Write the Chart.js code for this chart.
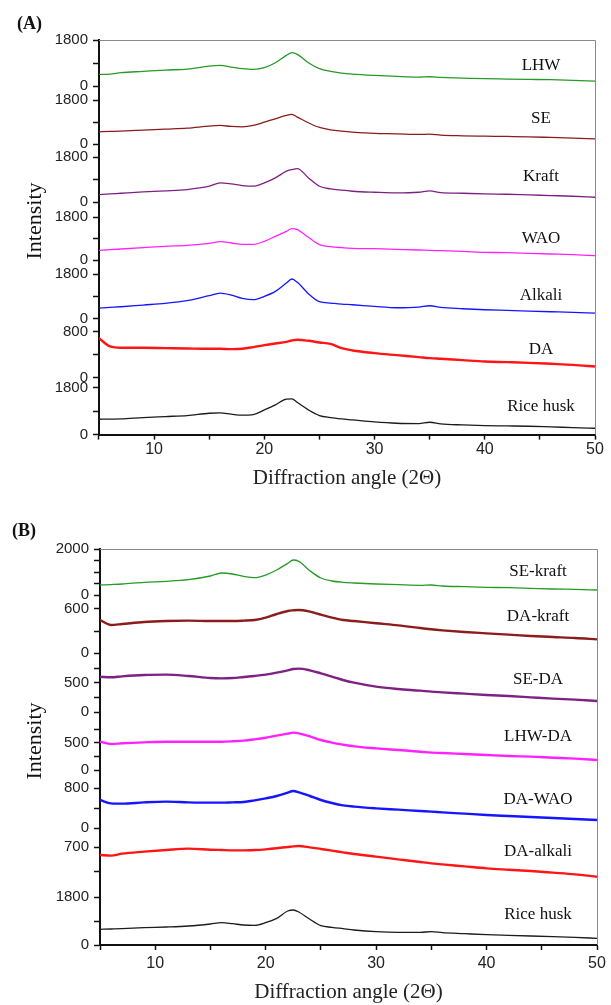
<!DOCTYPE html>
<html>
<head>
<meta charset="utf-8">
<script src="https://cdn.jsdelivr.net/npm/chart.js@4.4.1/dist/chart.umd.min.js"></script>
<style>
  html, body { margin: 0; padding: 0; background: #fff; }
  #chartA { position: absolute; left: 0; top: 0; }
  #chartB { position: absolute; left: 0; top: 495px; }
</style>
</head>
<body>
<canvas id="chartA" width="611" height="495"></canvas>
<canvas id="chartB" width="611" height="510"></canvas>
<script>
const angles = [5,6,7,9,11,13,15,16,17,18,19,20,21,22,22.5,23,24,25,26,27,28,30,32,34,35,36,38,40,42,44,46,48,50];

// panel (A)
const namesA = ['LHW', 'SE', 'Kraft', 'WAO', 'Alkali', 'DA', 'Rice husk'];
const lhw    = [456,469,522,574,626,665,782,808,743,678,652,717,913,1200,1304,1239,913,678,574,509,469,417,378,352,365,339,313,287,274,261,248,222,196];
const se     = [505,518,532,573,614,655,737,764,723,709,764,900,1037,1173,1214,1105,873,682,587,532,491,437,423,396,409,368,341,327,314,300,273,246,218];
const kraft  = [307,333,360,413,453,507,640,773,733,667,640,773,973,1240,1306,1346,973,640,533,480,440,400,373,400,453,387,360,333,320,293,267,240,200];
const wao    = [419,446,474,530,586,628,711,781,725,670,670,795,1004,1214,1325,1283,962,656,572,530,502,488,460,432,419,405,377,335,321,293,265,237,195];
const alkali = [423,450,477,546,614,723,928,1037,955,818,764,900,1105,1446,1610,1473,1009,682,627,587,559,491,436,464,518,450,396,355,327,300,273,246,218];
const da     = [684,539,516,516,510,504,499,499,493,499,528,562,591,620,643,655,638,609,585,510,470,423,388,354,336,325,301,278,267,255,238,220,191];
const riceA  = [587,594,600,651,690,728,817,830,779,741,766,945,1137,1354,1366,1226,945,728,651,600,562,485,434,421,472,409,370,345,332,319,294,268,243];

// panel (B)
const namesB = ['SE-kraft', 'DA-kraft', 'SE-DA', 'LHW-DA', 'DA-WAO', 'DA-alkali', 'Rice husk'];
const seKraft  = [435,455,478,551,594,667,826,956,913,811,753,869,1087,1377,1521,1463,1058,739,609,551,522,478,449,420,435,391,362,333,319,290,261,246,217];
const daKraft  = [450,382,395,423,436,441,436,436,436,441,450,482,532,573,582,586,564,523,482,450,436,405,377,341,323,309,286,268,250,232,218,205,186];
const seDa     = [609,598,615,638,644,621,586,580,586,603,621,644,678,718,741,747,718,667,609,552,506,437,397,368,351,339,316,293,276,253,230,213,190];
const lhwDa    = [524,481,494,512,524,524,524,524,531,543,568,598,636,673,691,679,623,555,506,469,438,401,370,339,321,315,296,278,259,247,228,210,185];
const daWao    = [560,493,487,513,527,513,507,507,513,520,553,593,640,707,740,713,640,560,500,453,427,393,367,340,327,313,287,260,240,220,200,180,160];
const daAlkali = [583,574,603,632,656,676,661,656,651,651,656,666,681,700,710,715,695,671,647,622,598,559,520,481,462,447,418,389,369,350,326,301,267];
const riceB    = [588,600,613,650,675,713,788,838,800,750,738,838,1000,1275,1313,1238,963,725,663,613,563,500,475,475,500,463,425,388,363,338,313,288,250];

// labelled ticks on each stacked intensity axis and the step of the small ticks
const topTicksA = [1800, 1800, 1800, 1800, 1800, 800, 1800];
const stepsA    = [900, 900, 900, 900, 900, 400, 900];
const topTicksB = [2000, 600, 500, 500, 800, 700, 1800];
const stepsB    = [500, 300, 250, 250, 400, 350, 900];
const xTickStep = 5;

// axis ranges and band heights (px) so the offsets match the figure
const bandsA = [
  {min: -548, max: 1800, h: 60}, {min: -532, max: 1800, h: 57}, {min: -600, max: 1800, h: 60},
  {min: -586, max: 1800, h: 57}, {min: -532, max: 1800, h: 57}, {min: -174, max: 800, h: 56},
  {min: 0, max: 1800, h: 47}
];
const bandsB = [
  {min: -391, max: 2000, h: 55}, {min: -177, max: 668, h: 62}, {min: -155, max: 793, h: 55},
  {min: -148, max: 907, h: 57}, {min: -140, max: 1000, h: 57}, {min: 88, max: 875, h: 54},
  {min: 0, max: 2100, h: 56}
];

const colors = ['#279a27', '#8b1c1c', '#7e2183', '#ff22ff', '#1515ff', '#ff1515', '#1c1c1c'];
const noisyA = [false, false, false, false, false, true, false];
const noisyB = [false, true, true, true, true, true, false];

const tickFont = {family: '"Liberation Sans", Arial, sans-serif', size: 15};
const serif = '"Liberation Serif", "Times New Roman", serif';

function pts(ys) {
  return angles.map((a, i) => ({x: a, y: ys[i]}));
}

function makeDatasets(names, series, noisy) {
  return names.map((n, i) => ({
    label: n,
    data: pts(series[i]),
    yAxisID: 'y' + i,
    borderColor: colors[i],
    borderWidth: noisy[i] ? 2.4 : 1.3,
    pointRadius: 0,
    cubicInterpolationMode: 'monotone',
    fill: false
  }));
}

function makeScales(bands, tops, steps, axisWidth, tickPad, titlePad) {
  const scales = {
    x: {
      type: 'linear', position: 'bottom', min: 5, max: 50,
      afterBuildTicks: s => {
        const t = [];
        for (let v = 5; v <= 50; v += xTickStep) t.push({value: v});
        s.ticks = t;
      },
      ticks: {
        autoSkip: false, maxRotation: 0, padding: tickPad, color: '#222',
        font: {family: tickFont.family, size: 16},
        callback: v => (v % 10 === 0 ? String(v) : '')
      },
      grid: {drawOnChartArea: false, tickLength: 5, tickColor: '#111', tickWidth: 1.5},
      border: {color: '#111', width: 2},
      title: {display: true, text: 'Diffraction angle (2\u0398)', color: '#222',
              font: {family: serif, size: 21}, padding: {top: titlePad, bottom: 0}}
    }
  };
  // later left axes are stacked above earlier ones, so add the bottom one first
  for (let i = bands.length - 1; i >= 0; i--) {
    const b = bands[i], top = tops[i], step = steps[i];
    scales['y' + i] = {
      type: 'linear', position: 'left', stack: 'panel', stackWeight: b.h,
      min: b.min, max: b.max,
      afterBuildTicks: s => {
        const t = [];
        for (let v = 0; v <= b.max; v += step) if (v >= b.min) t.push({value: v});
        s.ticks = t;
      },
      afterFit: s => { s.width = axisWidth; },
      ticks: {
        autoSkip: false, padding: 5, color: '#222', font: tickFont,
        callback: v => (v === 0 || v === top ? String(v) : '')
      },
      grid: {drawOnChartArea: false, tickLength: 6, tickColor: '#111', tickWidth: 1.5},
      border: {color: '#111', width: 2}
    };
  }
  return scales;
}

const panelText = {
  id: 'panelText',
  afterDraw(chart, args, o) {
    const ctx = chart.ctx, area = chart.chartArea;
    ctx.save();
    ctx.strokeStyle = '#8a8a8a';
    ctx.lineWidth = 1;
    ctx.beginPath();
    ctx.moveTo(area.left, area.top + 0.5);
    ctx.lineTo(area.right + 0.5, area.top + 0.5);
    ctx.lineTo(area.right + 0.5, area.bottom);
    ctx.stroke();

    ctx.fillStyle = '#111';
    ctx.textBaseline = 'middle';
    ctx.textAlign = 'left';
    ctx.font = 'bold 18px ' + serif;
    ctx.fillText(o.letter, o.letterX, o.letterY);

    ctx.font = '17px ' + serif;
    ctx.textAlign = 'center';
    chart.data.datasets.forEach((ds, i) => {
      const s = chart.scales['y' + i];
      ctx.fillText(ds.label, area.right - o.labelInset, s.top + o.labelDy[i]);
    });

    ctx.translate(o.titleX, o.titleY);
    ctx.rotate(-Math.PI / 2);
    ctx.font = '22px ' + serif;
    ctx.fillText('Intensity', 0, 0);
    ctx.restore();
  }
};

function makeChart(id, names, series, noisy, bands, tops, steps, layout, text, axisWidth, tickPad, titlePad) {
  return new Chart(document.getElementById(id), {
    type: 'line',
    data: {datasets: makeDatasets(names, series, noisy)},
    options: {
      responsive: false,
      animation: false,
      layout: {padding: layout},
      scales: makeScales(bands, tops, steps, axisWidth, tickPad, titlePad),
      plugins: {legend: {display: false}, tooltip: {enabled: false}, panelText: text}
    },
    plugins: [panelText]
  });
}

makeChart('chartA', namesA, [lhw, se, kraft, wao, alkali, da, riceA], noisyA, bandsA, topTicksA, stepsA,
  {top: 40, left: 0, right: 16, bottom: 4},
  {letter: '(A)', letterX: 17, letterY: 24, titleX: 35, titleY: 221, labelInset: 54,
   labelDy: [26, 18, 19, 21, 21, 18, 19]}, 99, 0, 7);

makeChart('chartB', namesB, [seKraft, daKraft, seDa, lhwDa, daWao, daAlkali, riceB], noisyB, bandsB, topTicksB, stepsB,
  {top: 54, left: 0, right: 14, bottom: 0},
  {letter: '(B)', letterX: 12, letterY: 36, titleX: 35, titleY: 246, labelInset: 59,
   labelDy: [23, 13, 14, 16, 22, 17, 26]}, 100, 3.5, 3.6);
</script>
</body>
</html>
